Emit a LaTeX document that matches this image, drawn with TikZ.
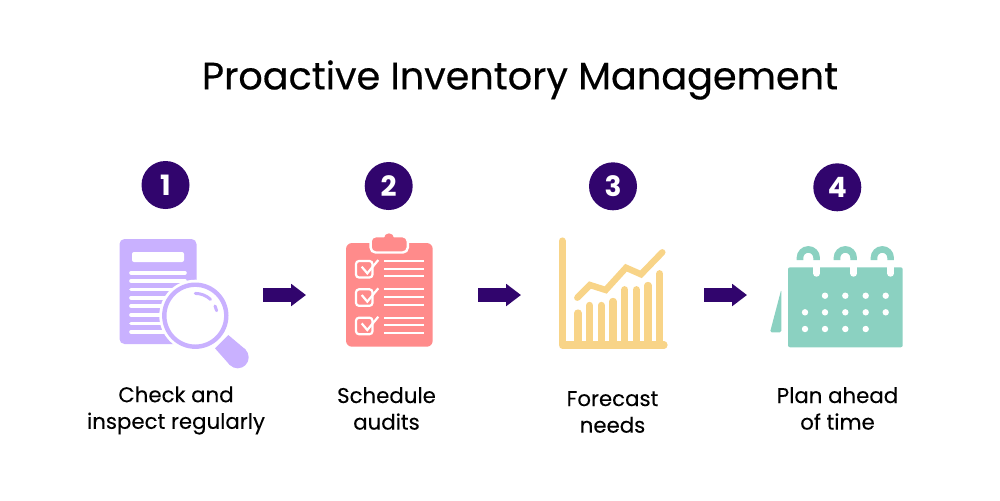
\documentclass[tikz,border=0pt]{standalone}
\usepackage{fontspec}
\setmainfont{Poppins}
\newfontfamily\titlefont[FakeBold=0.4]{Poppins}
\newfontfamily\capfont[FakeBold=0.12]{Poppins}
\usetikzlibrary{arrows.meta,scopes}
\definecolor{deep}{HTML}{31056D}
\definecolor{lilac}{HTML}{C9B1FF}
\definecolor{salmon}{HTML}{FF8B8B}
\definecolor{sand}{HTML}{F8D488}
\definecolor{mint}{HTML}{8BD1C1}
\tikzset{
  badge/.style={circle,fill=deep,text=white,inner sep=0pt,minimum size=24pt,font=\fontsize{14}{15}\selectfont\bfseries},
  caption/.style={align=center,inner sep=0pt,font=\capfont\fontsize{10.65}{13.3}\selectfont},
  flow/.style={draw=deep,line width=6.7pt,-{Triangle[length=7.4pt,width=10.7pt]}}
}
\begin{document}
\begin{tikzpicture}[x=.5pt,y=-.5pt]
\useasboundingbox (0,0) rectangle (1000,500);

\node (heading) at (520,80) {\titlefont\fontsize{19.1}{24}\selectfont Proactive Inventory Management};

\path node[badge] (b1) at (165.5,185) {1}
      node[badge] (b2) at (388.7,186) {2}
      node[badge] (b3) at (613,186.3) {3}
      node[badge] (b4) at (837.3,187.3) {4};

\path node[caption] (c1) at (176,410.5) {Check and\\inspect regularly}
      node[caption] (c2) at (386.5,408.5) {Schedule\\audits}
      node[caption] (c3) at (612.5,412) {Forecast\\needs}
      node[caption] (c4) at (837.5,408.5) {Plan ahead\\of time};

% arrows
\path coordinate (a1) at (263,295) coordinate (a2) at (306,295)
      coordinate (a3) at (478,295) coordinate (a4) at (521,295)
      coordinate (a5) at (704,295) coordinate (a6) at (747,295);
\draw[flow] (a1) -- (a2);
\draw[flow] (a3) -- (a4);
\draw[flow] (a5) -- (a6);

% document and lens
{ [lilac]
 \fill[rounded corners=2.5pt] (119.5,239) rectangle (196.5,344);
 \fill[white,rounded corners=1pt] (132,252) rectangle (184,262);
 {[white,line width=1.8pt,line cap=round]
 \draw (131,272.7)--(185,272.7) (131,281)--(185,281) (131,289.3)--(185,289.3) (131,297.7)--(185,297.7)
       (131,306)--(185,306) (131,315)--(185,315) (131,323.3)--(185,323.3) (131,331.7)--(185,331.7);
 }
 \fill[white] (195.3,315.7) circle[radius=18pt];
 \draw[line width=2.2pt] (195.3,315.7) circle[radius=15.5pt];
 \fill (228.3,335)--(245.5,349.5)--(229.9,365.1)--(215,348.3)--cycle;
 \fill (237.7,357.3) circle[radius=5.5pt];
 {[line width=1.5pt,line cap=round]
 \draw (195.3,293.4) arc[start angle=-90,end angle=-47,radius=22.3];
 \draw (215,306) arc[start angle=-26,end angle=-13,radius=21.8];
 }
}

% clipboard
\fill[salmon,rounded corners=3pt] (346,243) rectangle (432.7,346.7);
\filldraw[salmon,draw=white,line width=1.2pt,rounded corners=2.5pt] (370.6,236.2) rectangle (407.8,252.5);
\fill[salmon] (389,238.3) circle[radius=2.5pt];
{ [white,line width=1.1pt]
 {[rounded corners=1.5pt]
 \draw (356,261) rectangle (372.5,277.5);
 \draw (356,289.3) rectangle (372.5,305.8);
 \draw (356,317.7) rectangle (372.5,334.2);
 }
 \draw (361.7,266.7)--(367.3,273.3)--(378.3,260);
 \draw (361.7,295)--(367.3,301.6)--(378.3,288.3);
 \draw (361.7,323.4)--(367.3,330)--(378.3,316.7);
 \draw (384,261)--(424,261) (384,268.7)--(424,268.7) (384,276.3)--(424,276.3)
       (384,289.3)--(424,289.3) (384,297)--(424,297) (384,304.7)--(424,304.7)
       (384,317.7)--(424,317.7) (384,325.3)--(424,325.3) (384,333)--(424,333);
}

% chart
{ [sand,line cap=round]
 \draw[line width=3.6pt,line join=round] (562.3,241)--(562.3,345)--(664,345);
 {[line width=3.6pt]
 \draw (578,313)--(578,345) (589.7,305.4)--(589.7,345) (601.3,305.4)--(601.3,345) (613,301.4)--(613,345)
       (624.7,289.7)--(624.7,345) (636.3,289.7)--(636.3,345) (648,285.4)--(648,345) (659.7,273.7)--(659.7,345);
 }
 \draw[line width=3.2pt,line join=miter] (577.3,297.7)--(590,285)--(605.7,290)--(626,267.7)--(641,274.3)--(662.3,252.3);
}

% calendar
{ [mint]
 \fill[rounded corners=1pt] (788,267.3) rectangle (902.7,347.3);
 \fill[rounded corners=.8pt] (781.3,289.3)--(770,332.3)--(781.3,332.3)--cycle;
 {[line width=3.3pt]
 \draw (800,260)--(800,257.7) arc[start angle=180,end angle=360,radius=8.3]--(816.6,260);
 \draw (837,260)--(837,257.7) arc[start angle=180,end angle=360,radius=8.3]--(853.6,260);
 \draw (874,260)--(874,257.7) arc[start angle=180,end angle=360,radius=8.3]--(890.6,260);
 }
 {[white,line width=3.3pt,line cap=round]
 \draw (816.6,266)--(816.6,273.4) (853.6,266)--(853.6,273.4) (890.6,266)--(890.6,273.4);
 }
 \fill[white] (825,295.7) circle[radius=1.6pt] (845.3,295.7) circle[radius=1.6pt] (865.7,295.7) circle[radius=1.6pt] (885.7,295.7) circle[radius=1.6pt]
       (805,312.3) circle[radius=1.6pt] (825,312.3) circle[radius=1.6pt] (845.3,312.3) circle[radius=1.6pt] (865.7,312.3) circle[radius=1.6pt] (885.7,312.3) circle[radius=1.6pt]
       (805,329) circle[radius=1.6pt] (825,329) circle[radius=1.6pt] (845.3,329) circle[radius=1.6pt] (865.7,329) circle[radius=1.6pt];
}
\end{tikzpicture}
\end{document}
